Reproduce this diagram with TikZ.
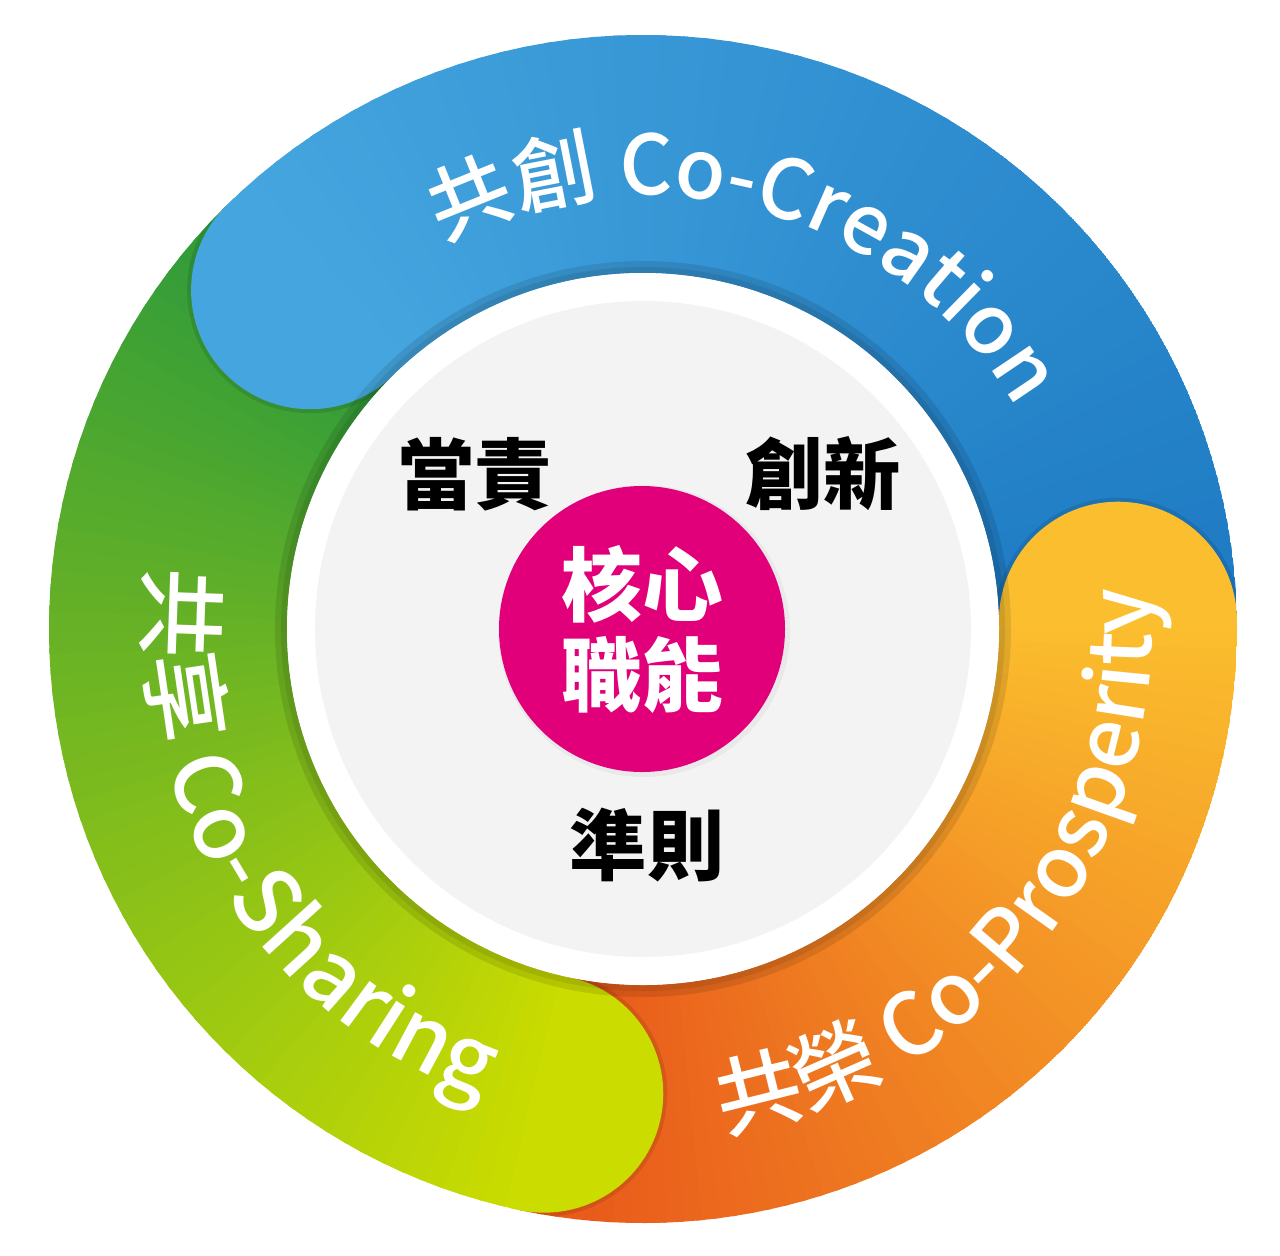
\documentclass[tikz,border=0pt]{standalone}
\usepackage{fontspec}
\newfontfamily\cjk{Noto Sans CJK TC}
\newfontfamily\cjkmed{Noto Sans CJK TC}[UprightFont=* Medium]
\usetikzlibrary{decorations.text}
\definecolor{blueA}{HTML}{45A6DF}
\definecolor{blueB}{HTML}{1E7BC4}
\definecolor{orangeA}{HTML}{FBBE2E}
\definecolor{orangeB}{HTML}{E8561A}
\definecolor{greenA}{HTML}{CBDC00}
\definecolor{greenB}{HTML}{2E9A3B}
\definecolor{coremag}{HTML}{E2007A}
\definecolor{plate}{HTML}{F3F3F4}
\tikzset{
  ringtext/.style 2 args={decorate, decoration={text along path, text align=center, text color=white,
    text={|\cjkmed\fontsize{#1}{#1}\selectfont|#2}}},
  duty/.style={font=\cjk\bfseries\fontsize{22}{26}\selectfont, text=black}
}

\begin{document}
\begin{tikzpicture}
  \useasboundingbox (-6.43,-6.26) rectangle (6.37,6.29);
  \coordinate (O) at (0,0);
  \begin{scope}
    \clip (O) circle (5.94);
    \foreach \sa/\se/\ca/\cb in {134.5/1/blueA/blueB, 1/-102/orangeA/orangeB, -102/-225.5/greenA/greenB} {
      \foreach \i in {0,...,59} {
        \pgfmathsetmacro\a{\sa+(\se-\sa)*(\i-0.3)/60}
        \pgfmathsetmacro\b{\sa+(\se-\sa)*(\i+1)/60}
        \pgfmathsetmacro\p{100*\i/59}
        \fill[\cb!\p!\ca] (\a:5.94) arc[start angle=\a, end angle=\b, radius=5.94]
          -- (\b:3.56) arc[start angle=\b, end angle=\a, radius=3.56] -- cycle;
      }
    }
    \foreach \sa/\c in {134.5/blueA, 1/orangeA, -102/greenA} {
      \fill[black, opacity=.10] (\sa:4.75) ++(\sa+180:1.23) arc[start angle=\sa+180, end angle=\sa, radius=1.23] -- cycle;
      \fill[\c] (\sa-1:3.5) -- (\sa:4.75) ++(\sa+180:1.19) arc[start angle=\sa+180, end angle=\sa, radius=1.19]
        -- (\sa-1:5.95) -- cycle;
    }
  \end{scope}
  \fill[black, opacity=.10] (O) circle (3.68);
  \fill[black, opacity=.08] (O) circle (3.62);
  \fill[white] (O) circle (3.56);
  \fill[plate] (O) circle (3.28);
  \fill[black, opacity=.04] (0.01,-0.02) circle (1.46);
  \node[circle, fill=coremag, minimum size=2.86cm, text=white, align=center,
    font=\cjk\bfseries\fontsize{23}{25.6}\selectfont] (core) at (-0.01,0) {核心\\職能};
  \node[duty] (dangze) at (-1.68,1.55) {當責};
  \node[duty] (chuangxin) at (1.80,1.55) {創新};
  \node[duty] (zhunze) at (0.04,-2.16) {準則};
  \path[ringtext={23.5}{共創 Co-Creation}] (164:4.34) arc[start angle=164, end angle=-16, radius=4.34];
  \path[ringtext={24.5}{共榮 Co-Prosperity}] (-128:5.09) arc[start angle=-128, end angle=52, radius=5.09];
  \path[ringtext={25.5}{共享 Co-Sharing}] (122:4.95) arc[start angle=122, end angle=302, radius=4.95];
\end{tikzpicture}
\end{document}
